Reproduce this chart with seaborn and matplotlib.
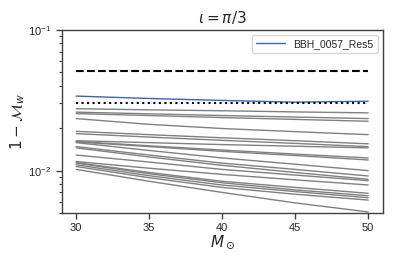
import numpy as np
import pandas as pd
import matplotlib
matplotlib.use("Agg")
import matplotlib.pyplot as plt
from matplotlib.lines import Line2D
import seaborn as sns

masses = [30, 35, 40, 45, 50]

# gray curves: 1 - M_w for other runs (values read at masses above)
gray_runs = [
    [0.0275, 0.0270, 0.0266, 0.0261, 0.0257],
    [0.0260, 0.0253, 0.0246, 0.0240, 0.0234],
    [0.0254, 0.0246, 0.0238, 0.0231, 0.0224],
    [0.0234, 0.0213, 0.0199, 0.0189, 0.0180],
    [0.0190, 0.0180, 0.0171, 0.0163, 0.0155],
    [0.0183, 0.0173, 0.0164, 0.0156, 0.0148],
    [0.0163, 0.0158, 0.0153, 0.0149, 0.0145],
    [0.0161, 0.0150, 0.0140, 0.0131, 0.0123],
    [0.0160, 0.0148, 0.0137, 0.0128, 0.0119],
    [0.0158, 0.0139, 0.0123, 0.0111, 0.0100],
    [0.0148, 0.0129, 0.0113, 0.0102, 0.00916],
    [0.0145, 0.0125, 0.0109, 0.00970, 0.00868],
    [0.0129, 0.0115, 0.0102, 0.00930, 0.00849],
    [0.0116, 0.0104, 0.00940, 0.00860, 0.00791],
    [0.0114, 0.00970, 0.00840, 0.00760, 0.00690],
    [0.0113, 0.00950, 0.00820, 0.00730, 0.00663],
    [0.0110, 0.00920, 0.00790, 0.00710, 0.00642],
    [0.0107, 0.00890, 0.00760, 0.00680, 0.00618],
    [0.0102, 0.00840, 0.00700, 0.00590, 0.00509],
]

blue_run = [0.0338, 0.0325, 0.0315, 0.0306, 0.0311]
blue_label = "BBH_0057_Res5"
dashed_level = 0.051
dotted_level = 0.0303

sns.set_theme(style="ticks")
plt.rcParams['font.family'] = ['Liberation Sans', 'DejaVu Sans']
plt.rcParams['axes.edgecolor'] = '0.25'
plt.rcParams['axes.linewidth'] = 1.0

fig = plt.figure(figsize=(3.95, 2.63), dpi=100)
ax = fig.add_axes([0.156, 0.19, 0.813, 0.697])

rows = []
for i, run in enumerate(gray_runs):
    for m, v in zip(masses, run):
        rows.append({"run": i, "M": m, "mm": v})
df = pd.DataFrame(rows)

sns.lineplot(data=df, x="M", y="mm", units="run", estimator=None,
             color="gray", linewidth=1.0, ax=ax, legend=False)

blue_color = "#3a66b0"
sns.lineplot(x=masses, y=blue_run, color=blue_color, linewidth=1.0,
             ax=ax, legend=False)

ax.plot([masses[0], masses[-1]], [dashed_level, dashed_level],
        color="black", linestyle="--", linewidth=1.5)
ax.plot([masses[0], masses[-1]], [dotted_level, dotted_level],
        color="black", linestyle=":", linewidth=1.5)

ax.set_yscale("log")
ax.set_xlim(29, 51)
ax.set_ylim(0.005, 0.1)
ax.set_xticks([30, 35, 40, 45, 50])
ax.tick_params(labelsize=8, length=4, width=1.0, colors='0.25',
               labelcolor='0.15')
ax.tick_params(which='minor', length=2.5, width=0.8, colors='0.25')
ax.set_xlabel(r"$M_\odot$", fontsize=11, labelpad=0)
ax.set_ylabel(r"$1 - \mathcal{M}_w$", fontsize=11)
ax.yaxis.set_label_coords(-0.108, 0.5)
ax.set_title(r"$\iota = \pi/3$", fontsize=11, pad=5)
handle = Line2D([], [], color=blue_color, linewidth=1.0)
ax.legend(handles=[handle], labels=[blue_label], loc="upper right",
          fontsize=7.5, frameon=True, handlelength=2.8)

fig.savefig("out.png", dpi=100)
